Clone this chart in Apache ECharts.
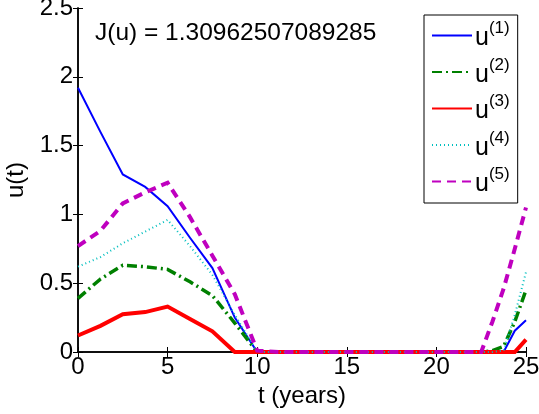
<!DOCTYPE html>
<html>
<head>
<meta charset="utf-8">
<script src="https://cdn.jsdelivr.net/npm/echarts@6/dist/echarts.min.js"></script>
<style>html,body{margin:0;padding:0;background:#fff}#c{width:539px;height:414px}</style>
</head>
<body>
<div id="c"></div>
<script>
// Time grid (years)
var tValues = [0, 1.25, 2.5, 3.75, 5, 6.25, 7.5, 8.75, 10, 11.25, 12.5, 13.75, 15, 16.25, 17.5, 18.75, 20, 21.25, 22.5, 23.125, 23.75, 24.375, 25];
var u1 = [1.92, 1.60, 1.29, 1.20, 1.06, 0.83, 0.61, 0.25, 0, 0, 0, 0, 0, 0, 0, 0, 0, 0, 0, 0, 0, 0.155, 0.23];
var u2 = [0.39, 0.53, 0.63, 0.62, 0.60, 0.51, 0.41, 0.21, 0, 0, 0, 0, 0, 0, 0, 0, 0, 0, 0, 0.01, 0.04, 0.22, 0.45];
var u3 = [0.12, 0.19, 0.275, 0.29, 0.33, 0.24, 0.15, 0, 0, 0, 0, 0, 0, 0, 0, 0, 0, 0, 0, 0, 0, 0, 0.09];
var u4 = [0.62, 0.69, 0.79, 0.875, 0.96, 0.77, 0.56, 0.27, 0, 0, 0, 0, 0, 0, 0, 0, 0, 0, 0, 0, 0.01, 0.27, 0.58];
var u5 = [0.77, 0.88, 1.08, 1.16, 1.23, 0.98, 0.70, 0.42, 0.01, 0, 0, 0, 0, 0, 0, 0, 0, 0, 0, 0.22, 0.46, 0.75, 1.05];
var seriesNames = ['u1', 'u2', 'u3', 'u4', 'u5'];
var superscripts = ['(1)', '(2)', '(3)', '(4)', '(5)'];
var xTicks = [0, 5, 10, 15, 20, 25];
var yTicks = [0, 0.5, 1, 1.5, 2, 2.5];
var jText = 'J(u) = 1.30962507089285';

var FONT = 'Liberation Sans, Arial, Helvetica, sans-serif';
function pairs(arr) { return tValues.map(function (t, i) { return [t, arr[i]]; }); }

var styles = [
  { color: '#0000ff', width: 2, type: 'solid' },
  { color: '#008000', width: 3.5, type: [10, 4, 2, 4] },
  { color: '#ff0000', width: 4, type: 'solid' },
  { color: '#00bfbf', width: 2, type: [1, 3] },
  { color: '#bf00bf', width: 4, type: [9, 6] }
];
var datas = [u1, u2, u3, u4, u5];

var series = seriesNames.map(function (n, i) {
  return {
    name: n,
    type: 'line',
    data: pairs(datas[i]),
    showSymbol: false,
    symbol: 'none',
    clip: false,
    animation: false,
    lineStyle: { color: styles[i].color, width: styles[i].width, type: styles[i].type, cap: 'butt', join: 'miter' },
    itemStyle: { color: styles[i].color },
    z: 3 + i
  };
});

var axisCommon = {
  axisLine: { show: true, lineStyle: { color: '#000', width: 1.5 } },
  axisTick: { show: true, inside: true, length: 5, lineStyle: { color: '#000', width: 1 } },
  splitLine: { show: false }
};

var chart = echarts.init(document.getElementById('c'));
chart.setOption({
  animation: false,
  backgroundColor: '#fff',
  grid: { left: 78, right: 13, top: 8, bottom: 62, containLabel: false, outerBoundsMode: 'none' },
  xAxis: [
    Object.assign({
      type: 'value', min: 0, max: 25, interval: 5, position: 'bottom',
      name: 't (years)', nameLocation: 'middle', nameGap: 30,
      nameTextStyle: { fontFamily: FONT, fontSize: 24, color: '#000' },
      axisLabel: { fontFamily: FONT, fontSize: 24, color: '#000', margin: 3,
        formatter: function (v) { return xTicks.indexOf(v) >= 0 ? String(v) : ''; } }
    }, axisCommon),
    Object.assign({
      type: 'value', min: 0, max: 25, interval: 5, position: 'top',
      axisLabel: { show: false }
    }, axisCommon)
  ],
  yAxis: [
    Object.assign({
      type: 'value', min: 0, max: 2.5, interval: 0.5, position: 'left',
      name: 'u(t)', nameLocation: 'middle', nameGap: 50, nameRotate: 90,
      nameTextStyle: { fontFamily: FONT, fontSize: 24, color: '#000' },
      axisLabel: { fontFamily: FONT, fontSize: 24, color: '#000', margin: 5,
        formatter: function (v) { return yTicks.indexOf(v) >= 0 ? String(v) : ''; } }
    }, axisCommon),
    Object.assign({
      type: 'value', min: 0, max: 2.5, interval: 0.5, position: 'right',
      axisLabel: { show: false }
    }, axisCommon)
  ],
  title: {
    text: jText, left: 95, top: 21, padding: 0,
    textStyle: { fontFamily: FONT, fontSize: 24.5, fontWeight: 'normal', color: '#000' }
  },
  legend: {
    orient: 'vertical', left: 424, top: 15,
    padding: [5, 8, 6, 7],
    backgroundColor: '#fff',
    borderColor: '#000', borderWidth: 1,
    itemWidth: 40, itemHeight: 12, itemGap: 5.5,
    itemStyle: { opacity: 0 },
    data: seriesNames,
    formatter: function (n) { var i = seriesNames.indexOf(n); return '{u|u}{s|' + superscripts[i] + '}'; },
    textStyle: {
      fontFamily: FONT, color: '#000', padding: [0, 0, 0, -2],
      rich: {
        u: { fontFamily: FONT, fontSize: 25, color: '#000', lineHeight: 31, verticalAlign: 'bottom' },
        s: { fontFamily: FONT, fontSize: 17, color: '#000', lineHeight: 31, verticalAlign: 'top' }
      }
    }
  },
  series: series
});
</script>
</body>
</html>
